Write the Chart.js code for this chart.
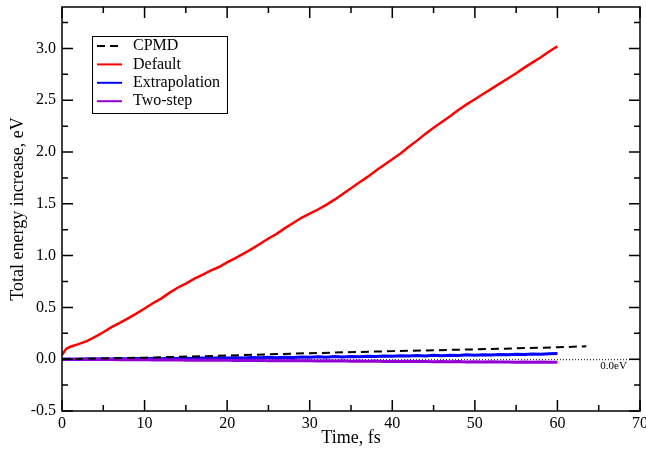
<!DOCTYPE html>
<html>
<head>
<meta charset="utf-8">
<script src="https://cdn.jsdelivr.net/npm/chart.js@4.4.1/dist/chart.umd.min.js"></script>
<style>
  body { margin: 0; background: #fff; }
  canvas { display: block; }
</style>
</head>
<body>
<canvas id="energyChart" width="646" height="451"></canvas>
<script>
// time axis (fs)
var timeFs = [0,1,2,3,4,5,6,7,8,9,10,11,12,13,14,15,16,17,18,19,20,
  21,22,23,24,25,26,27,28,29,30,31,32,33,34,35,36,37,38,39,40,
  41,42,43,44,45,46,47,48,49,50,51,52,53,54,55,56,57,58,59,60];
var timeDefault = [0,0.5,1,2,3,4,5,6,7,8,9,10,11,12,13,14,15,16,17,18,19,20,
  21,22,23,24,25,26,27,28,29,30,31,32,33,34,35,36,37,38,39,40,
  41,42,43,44,45,46,47,48,49,50,51,52,53,54,55,56,57,58,59,60];
var timeCpmd = [0, 10, 20, 30, 40, 50, 60, 63.5];

// energy increase (eV)
var cpmd = [0, 0.015, 0.035, 0.058, 0.078, 0.095, 0.115, 0.125];
var defaultRun = [0.04,0.10,0.12,0.145,0.175,0.215,0.26,0.31,0.35,0.395,0.44,0.49,
  0.54,0.585,0.64,0.69,0.73,0.775,0.815,0.855,0.89,0.935,
  0.975,1.02,1.065,1.115,1.165,1.21,1.265,1.315,1.365,1.405,
  1.445,1.49,1.54,1.595,1.65,1.705,1.76,1.82,1.875,1.93,
  1.985,2.05,2.11,2.175,2.235,2.29,2.345,2.405,2.46,2.51,
  2.56,2.61,2.66,2.71,2.76,2.815,2.865,2.915,2.97,3.02];
var extrapolation = [0.000,0.003,-0.002,0.004,0.001,0.005,0.002,0.006,0.003,0.007,0.004,
  0.008,0.005,0.009,0.006,0.010,0.007,0.012,0.009,0.013,0.011,
  0.014,0.012,0.016,0.013,0.018,0.015,0.019,0.017,0.021,0.019,
  0.023,0.020,0.025,0.022,0.027,0.024,0.029,0.026,0.031,0.028,
  0.033,0.030,0.035,0.032,0.037,0.034,0.039,0.036,0.042,0.039,
  0.044,0.041,0.046,0.043,0.048,0.045,0.050,0.048,0.053,0.055];
var twoStep = [0.000,-0.002,0.001,-0.003,-0.001,-0.004,-0.002,-0.005,-0.003,-0.006,-0.004,
  -0.007,-0.005,-0.008,-0.006,-0.009,-0.007,-0.010,-0.008,-0.011,-0.009,
  -0.012,-0.010,-0.013,-0.011,-0.014,-0.012,-0.015,-0.013,-0.016,-0.014,
  -0.017,-0.015,-0.018,-0.016,-0.019,-0.017,-0.020,-0.018,-0.021,-0.019,
  -0.022,-0.020,-0.023,-0.021,-0.024,-0.022,-0.025,-0.023,-0.026,-0.024,
  -0.027,-0.025,-0.028,-0.026,-0.029,-0.027,-0.030,-0.028,-0.030,-0.029];

function pairs(xs, ys) {
  return ys.map(function (y, i) { return { x: xs[i], y: y }; });
}

var serif = '"Liberation Serif", "DejaVu Serif", serif';

// frame, in-pointing ticks, zero line, legend box
var framePlugin = {
  id: 'frame',
  beforeDatasetsDraw: function (chart) {
    var ctx = chart.ctx, a = chart.chartArea;
    var y0 = chart.scales.y.getPixelForValue(0);
    ctx.save();
    ctx.strokeStyle = '#000';
    ctx.lineWidth = 1;
    ctx.setLineDash([1, 2]);
    ctx.beginPath();
    ctx.moveTo(a.left, y0 + 0.5);
    ctx.lineTo(a.right, y0 + 0.5);
    ctx.stroke();
    ctx.restore();
  },
  afterDatasetsDraw: function (chart) {
    var ctx = chart.ctx, a = chart.chartArea;
    var xs = chart.scales.x, ys = chart.scales.y;
    ctx.save();
    ctx.strokeStyle = '#000';
    ctx.lineWidth = 1.5;
    ctx.strokeRect(a.left, a.top, a.right - a.left, a.bottom - a.top);
    ctx.beginPath();
    var v, p, len;
    for (v = 0; v <= 70; v += 5) {
      p = xs.getPixelForValue(v);
      len = (v % 10 === 0) ? 11 : 6;
      ctx.moveTo(p, a.bottom); ctx.lineTo(p, a.bottom - len);
      ctx.moveTo(p, a.top); ctx.lineTo(p, a.top + len);
    }
    for (v = -0.5; v <= 3.4; v += 0.25) {
      p = ys.getPixelForValue(v);
      len = (Math.abs(v * 2 - Math.round(v * 2)) < 1e-6) ? 11 : 6;
      ctx.moveTo(a.left, p); ctx.lineTo(a.left + len, p);
      ctx.moveTo(a.right, p); ctx.lineTo(a.right - len, p);
    }
    ctx.stroke();

    // 0.0eV marker
    ctx.fillStyle = '#000';
    ctx.font = '11px ' + serif;
    ctx.textAlign = 'left';
    ctx.textBaseline = 'middle';
    ctx.fillText('0.0eV', xs.getPixelForValue(65.2), ys.getPixelForValue(0) + 7);

    // legend
    var bx = 92, by = 36, bw = 135, bh = 77;
    ctx.fillStyle = '#fff';
    ctx.fillRect(bx, by, bw, bh);
    ctx.lineWidth = 1;
    ctx.strokeStyle = '#000';
    ctx.strokeRect(bx + 0.5, by + 0.5, bw, bh);
    ctx.font = '16px ' + serif;
    chart.data.datasets.forEach(function (ds, i) {
      var ry = 46 + i * 18.4;
      ctx.strokeStyle = ds.borderColor;
      ctx.lineWidth = 2;
      ctx.setLineDash(ds.borderDash || []);
      ctx.beginPath();
      ctx.moveTo(97, ry);
      ctx.lineTo(122, ry);
      ctx.stroke();
      ctx.setLineDash([]);
      ctx.fillStyle = '#000';
      ctx.fillText(ds.label, 133, ry);
    });
    ctx.restore();
  }
};

var ctx = document.getElementById('energyChart').getContext('2d');
new Chart(ctx, {
  type: 'line',
  data: {
    datasets: [{
      label: 'CPMD',
      data: pairs(timeCpmd, cpmd),
      borderColor: '#000000',
      borderWidth: 2,
      borderDash: [8, 5],
      order: 0
    }, {
      label: 'Default',
      data: pairs(timeDefault, defaultRun),
      borderColor: '#ff0000',
      borderWidth: 2.5,
      order: 3
    }, {
      label: 'Extrapolation',
      data: pairs(timeFs, extrapolation),
      borderColor: '#0000ff',
      borderWidth: 3,
      order: 2
    }, {
      label: 'Two-step',
      data: pairs(timeFs, twoStep),
      borderColor: '#9400d3',
      borderWidth: 3,
      order: 1
    }]
  },
  options: {
    responsive: false,
    animation: false,
    layout: { padding: { left: 0, right: 6, top: 7, bottom: 0 } },
    elements: { point: { radius: 0 }, line: { tension: 0 } },
    plugins: { legend: { display: false }, tooltip: { enabled: false } },
    scales: {
      x: {
        type: 'linear',
        min: 0,
        max: 70,
        grid: { display: false, drawTicks: false },
        border: { display: false },
        ticks: {
          stepSize: 10,
          padding: 3,
          color: '#000',
          font: { family: serif, size: 16 },
          maxRotation: 0
        },
        title: {
          display: true,
          text: 'Time, fs',
          color: '#000',
          font: { family: serif, size: 18 },
          padding: { top: 0, bottom: 2 }
        },
        afterFit: function (s) {
          s.height = 40;
          s.paddingLeft = 0;
          s.paddingRight = 0;
        }
      },
      y: {
        type: 'linear',
        min: -0.5,
        max: 3.4,
        grid: { display: false, drawTicks: false },
        border: { display: false },
        ticks: {
          stepSize: 0.5,
          includeBounds: false,
          padding: 6,
          color: '#000',
          font: { family: serif, size: 16 },
          callback: function (v) { return v.toFixed(1); }
        },
        title: {
          display: true,
          text: 'Total energy increase, eV',
          color: '#000',
          font: { family: serif, size: 18 },
          padding: { top: 7, bottom: 0 }
        },
        afterFit: function (s) {
          s.width = 62;
          s.paddingTop = 0;
          s.paddingBottom = 0;
        }
      }
    }
  },
  plugins: [framePlugin]
});
</script>
</body>
</html>
